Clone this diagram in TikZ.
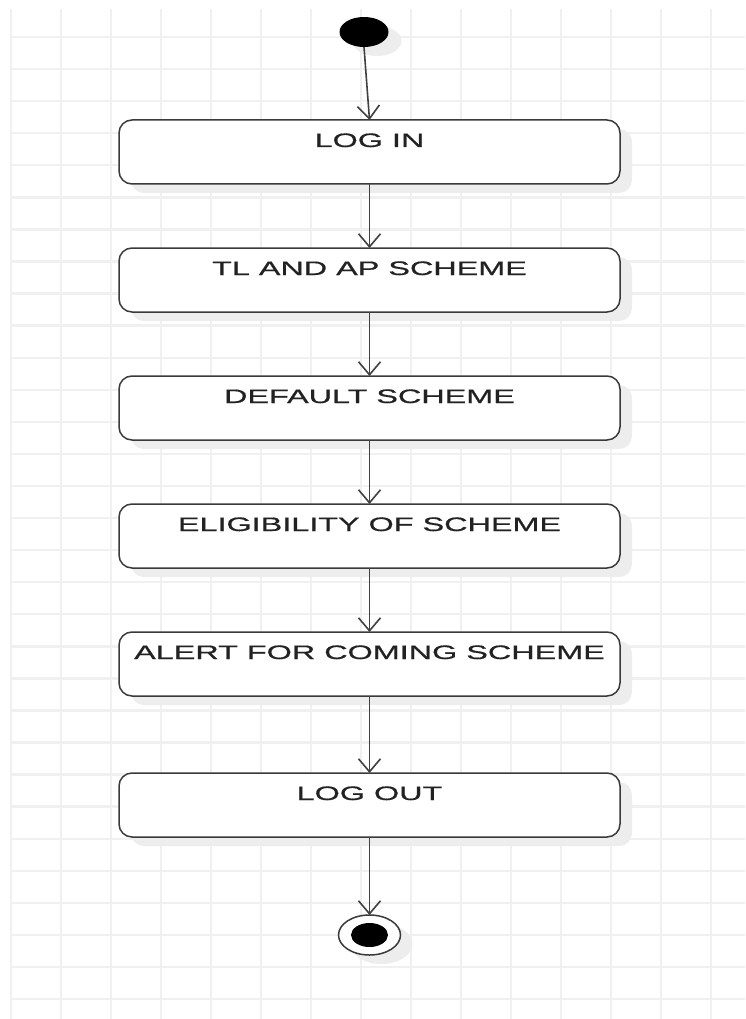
\documentclass[tikz,border=0pt]{standalone}
\usepackage{fontspec}
\newfontfamily\statefont[FakeStretch=1.66, FakeBold=0.7]{Liberation Sans}
\usepackage{tikz}
\usetikzlibrary{arrows.meta, positioning, shadows, shapes.geometric}
\definecolor{LineGray}{HTML}{3A3A3A}
\definecolor{ArrowGray}{HTML}{404040}
\definecolor{GridGray}{HTML}{F0F0F0}
\definecolor{ShadowGray}{HTML}{EDEDED}
\definecolor{TextBlack}{HTML}{222222}
\tikzset{%
  state/.style={%
    rectangle,
    minimum width=501pt,
    inner xsep=0pt,
    inner ysep=0pt,
    outer sep=0pt,
    text height=27pt,
    text depth=37pt,
    line width=1.5pt,
    draw=LineGray,
    fill=white,
    rounded corners=13pt,
    drop shadow={shadow xshift=12pt, shadow yshift=-9pt, fill=ShadowGray, opacity=1},
    font={\statefont\fontsize{19.5}{20}\selectfont},
    text=TextBlack,
    align=center%
  },
  initial/.style={%
    ellipse,
    minimum width=49pt,
    minimum height=30pt,
    inner sep=0pt,
    outer sep=0pt,
    fill=black,
    drop shadow={shadow xshift=13pt, shadow yshift=-9pt, fill=ShadowGray, opacity=1},
  },
  final/.style={%
    ellipse,
    minimum width=62pt,
    minimum height=40pt,
    inner sep=0pt,
    outer sep=0pt,
    line width=1.5pt,
    draw=LineGray,
    fill=white,
    drop shadow={shadow xshift=12pt, shadow yshift=-9pt, fill=ShadowGray, opacity=1},
  },
  gridline/.style={%
    color=GridGray,
    line width=2.4pt%
  },
  signal/.style={%
    color=ArrowGray,
    line width=1.6pt%
  },
  arrow/.style={-{Straight Barb[length=13pt, width=22pt, line width=1.6pt]}}
}

\begin{document}
\begin{tikzpicture}[x=1pt, y=1pt]
    \useasboundingbox [fill=white] (0,0) rectangle (745,-1019);

    % background grid
    \foreach \gx in {0,...,14}
      \draw [gridline] (11+50*\gx, -9) -- (11+50*\gx, -1019);
    \foreach \gy in {0,...,30}
      \draw [gridline] (11, -37-32.07*\gy) -- (745, -37-32.07*\gy);

    \node [initial] (Start) at (364, -32) {};
    \node [state] (LogIn) at (369.5, -152) {LOG IN};
    \node [state, below=64pt of LogIn] (TlAp) {TL AND AP SCHEME};
    \node [state, below=64pt of TlAp] (Default) {DEFAULT SCHEME};
    \node [state, below=64pt of Default] (Eligible) {ELIGIBILITY OF SCHEME};
    \node [state, below=64pt of Eligible] (Alert) {ALERT FOR COMING SCHEME};
    \node [state, below=77pt of Alert] (LogOut) {LOG OUT};
    \node [final, below=78pt of LogOut] (End) {};
    \fill [black] (End.center) ellipse (18.5 and 12);

    \draw [arrow, signal]
      (Start.south) -- (LogIn.north);
    \draw [arrow, signal]
      (LogIn.south) -- (TlAp.north);
    \draw [arrow, signal]
      (TlAp.south) -- (Default.north);
    \draw [arrow, signal]
      (Default.south) -- (Eligible.north);
    \draw [arrow, signal]
      (Eligible.south) -- (Alert.north);
    \draw [arrow, signal]
      (Alert.south) -- (LogOut.north);
    \draw [arrow, signal]
      (LogOut.south) -- (End.north);
  \end{tikzpicture}
\end{document}
